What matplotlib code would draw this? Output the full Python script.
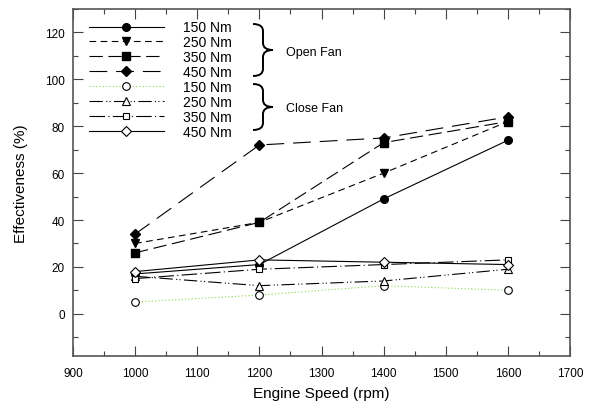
import numpy as np
import matplotlib
matplotlib.use('Agg')
import matplotlib.pyplot as plt
from matplotlib.path import Path
from matplotlib.patches import PathPatch
from matplotlib.ticker import MultipleLocator

plt.rcParams['font.family'] = ['Liberation Sans', 'DejaVu Sans']

# engine speed (rpm)
speed = [1000, 1200, 1400, 1600]

# effectiveness (%) - open fan
open_150 = [17, 21, 49, 74]
open_250 = [30, 39, 60, 82]
open_350 = [26, 39, 73, 82]
open_450 = [34, 72, 75, 84]

# effectiveness (%) - close fan
close_150 = [5, 8, 12, 10]
close_250 = [16, 12, 14, 19]
close_350 = [15, 19, 21, 23]
close_450 = [18, 23, 22, 21]

labels = ['150 Nm', '250 Nm', '350 Nm', '450 Nm', '150 Nm', '250 Nm', '350 Nm', '450 Nm']

green = '#8ad94a'

fig = plt.figure(figsize=(5.93, 4.14), dpi=100)
ax = fig.add_axes([73 / 593, 1 - 357 / 414, (570 - 73) / 593, (357 - 10) / 414])

lw = 0.8
ms = 5.5
h1, = ax.plot(speed, open_150, color='k', lw=lw, ls='-', marker='o', ms=ms, mfc='k', mec='k')
h2, = ax.plot(speed, open_250, color='k', lw=lw, ls=(0, (6, 4)), marker='v', ms=ms, mfc='k', mec='k')
h3, = ax.plot(speed, open_350, color='k', lw=lw, ls=(0, (12, 5)), marker='s', ms=ms, mfc='k', mec='k')
h4, = ax.plot(speed, open_450, color='k', lw=lw, ls=(0, (16, 8)), marker='D', ms=ms - 0.5, mfc='k', mec='k')

h5, = ax.plot(speed, close_150, color=green, lw=lw, ls=(0, (1, 2)), marker='o', ms=ms, mfc='white', mec='k', mew=0.8)
h6, = ax.plot(speed, close_250, color='k', lw=lw, ls=(0, (12, 3, 1, 2, 1, 3)), marker='^', ms=ms, mfc='white', mec='k', mew=0.8)
h7, = ax.plot(speed, close_350, color='k', lw=lw, ls=(0, (14, 3, 1, 3)), marker='s', ms=ms - 0.5, mfc='white', mec='k', mew=0.8)
h8, = ax.plot(speed, close_450, color='k', lw=lw, ls='-', marker='D', ms=ms - 0.5, mfc='white', mec='k', mew=0.8)

ax.legend([h1, h2, h3, h4, h5, h6, h7, h8], labels, loc='upper left', frameon=False,
          fontsize=10, handlelength=5.4, handletextpad=1.4, labelspacing=0.07,
          borderaxespad=0.27, bbox_to_anchor=(0.013, 0.994))

ax.set_xlim(900, 1700)
ax.set_ylim(-18, 130)
ax.xaxis.set_major_locator(MultipleLocator(100))
ax.xaxis.set_minor_locator(MultipleLocator(50))
ax.yaxis.set_major_locator(MultipleLocator(20))
ax.yaxis.set_minor_locator(MultipleLocator(10))
ax.set_yticks([0, 20, 40, 60, 80, 100, 120])
ax.tick_params(which='both', direction='in', top=True, right=True, labelsize=8.5, color='#444444')
ax.tick_params(which='major', length=7, width=0.8, pad=8)
ax.tick_params(which='minor', length=3.5, width=0.8)
ax.tick_params(axis='y', pad=6)
for s in ax.spines.values():
    s.set_color('#555555')
    s.set_linewidth(1.2)

ax.set_xlabel('Engine Speed (rpm)', fontsize=11, labelpad=5)
ax.set_ylabel('Effectiveness (%)', fontsize=11, labelpad=12)


# curly braces, drawn in figure pixels
def brace(x0, xv, xt, top, bot, r=7):
    mid = (top + bot) / 2
    pts = [(x0, top), (xv, top), (xv, top + r), (xv, mid - r), (xv, mid), (xt, mid),
           (xv, mid), (xv, mid + r), (xv, bot - r), (xv, bot), (x0, bot)]
    codes = [Path.MOVETO, Path.CURVE3, Path.CURVE3, Path.LINETO, Path.CURVE3, Path.CURVE3,
             Path.CURVE3, Path.CURVE3, Path.LINETO, Path.CURVE3, Path.CURVE3]
    pts = [(x / 593, 1 - y / 414) for x, y in pts]
    fig.patches.append(PathPatch(Path(pts, codes), transform=fig.transFigure,
                                 fill=False, lw=1.4, color='k'))


brace(253, 263, 273, 25, 77)
brace(253, 263, 273, 85, 131)
fig.text(286 / 593, 1 - 53 / 414, 'Open Fan', fontsize=9, va='center', ha='left')
fig.text(286 / 593, 1 - 109 / 414, 'Close Fan', fontsize=9, va='center', ha='left')

fig.savefig('out.png', dpi=100)
